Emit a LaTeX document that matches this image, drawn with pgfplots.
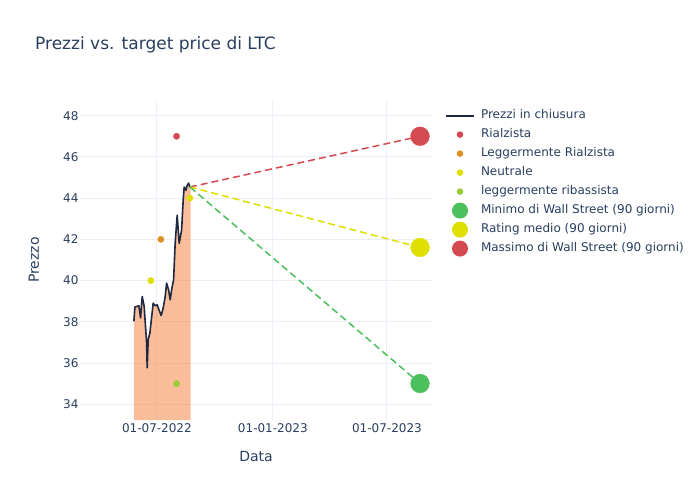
\documentclass[border=0pt]{standalone}
\usepackage{pgfplots}
\pgfplotsset{compat=1.18}
\usepackage{fontspec}
\setmainfont{DejaVu Sans}
\definecolor{textc}{RGB}{42,63,95}
\definecolor{gridc}{RGB}{235,240,248}
\definecolor{fillc}{RGB}{244,125,52}
\definecolor{linec}{RGB}{31,40,64}
\definecolor{redc}{RGB}{213,73,82}
\definecolor{orangec}{RGB}{221,145,38}
\definecolor{yellowc}{RGB}{224,224,0}
\definecolor{lgreenc}{RGB}{154,205,50}
\definecolor{greenc}{RGB}{76,192,92}
\begin{document}
\begin{tikzpicture}[x=1pt,y=1pt]
\useasboundingbox (0,0) rectangle (700,500);
\fill[white] (0,0) rectangle (700,500);
\node[anchor=base west, text=textc, font=\fontsize{17}{20}\selectfont, inner sep=0pt] at (35,450) {Prezzi vs. target price di LTC};
\begin{axis}[
  at={(80pt,80pt)}, anchor=south west, scale only axis,
  width=352pt, height=320pt,
  xmin=-122, xmax=436.5, ymin=33.24, ymax=48.76,
  xtick={0,184,365}, xticklabels={01-07-2022,01-01-2023,01-07-2023},
  ytick={34,36,...,48},
  grid=major, major grid style={color=gridc, line width=1pt},
  axis line style={draw=none}, tick style={draw=none},
  ticklabel style={text=textc, font=\fontsize{12}{14}\selectfont},
  yticklabel style={xshift=2pt},
  /pgf/number format/assume math mode=true,
  xlabel={Data}, ylabel={Prezzo},
  label style={text=textc, font=\fontsize{14}{16}\selectfont},
  xlabel style={at={(axis description cs:0.5,-0.1125)}, anchor=center},
  ylabel style={at={(axis description cs:-0.131,0.5)}, anchor=center},
  legend style={at={(1,1)}, anchor=north west, xshift=13pt, yshift=-9.6pt,
    draw=none, fill=none, inner sep=0pt, outer sep=0pt,
    row sep=7pt, column sep=6pt, text=textc,
    font=\fontsize{12}{14}\selectfont,
    nodes={inner sep=0pt, text height=9pt, text depth=3pt}},
  legend cell align=left,
]
\addplot[fill=fillc, fill opacity=0.5, draw=none, forget plot] coordinates {
(-36.5,38.02) (-34.9,38.72) (-28.6,38.78) (-25.9,38.19) (-23.3,39.23) (-20.2,38.75)
(-16.3,36.98) (-15.4,35.77) (-13.8,37.14) (-11.1,37.46) (-5.9,38.91) (-2.7,38.78)
(0.5,38.83) (3.2,38.59) (6.8,38.31) (10,38.67) (13.2,39.23) (15.4,39.88) (18.6,39.55)
(21.1,39.07) (23.8,39.63) (26.5,40.04) (29,41.81) (32.2,43.17) (35.4,41.81) (39.2,42.45)
(41.7,43.90) (43.3,44.54) (46,44.38) (48.1,44.62) (50.3,44.73) (52.4,44.54) (53.5,44.54)
} \closedcycle;
\addplot[color=linec, line width=1.6pt, line join=round,
  legend image code/.code={\path[draw=none,fill=none] (0pt,-6pt) rectangle (28pt,6pt); \path[draw=linec, line width=2pt] (0pt,0pt) -- (28pt,0pt);}]
 coordinates {
(-36.5,38.02) (-34.9,38.72) (-28.6,38.78) (-25.9,38.19) (-23.3,39.23) (-20.2,38.75)
(-16.3,36.98) (-15.4,35.77) (-13.8,37.14) (-11.1,37.46) (-5.9,38.91) (-2.7,38.78)
(0.5,38.83) (3.2,38.59) (6.8,38.31) (10,38.67) (13.2,39.23) (15.4,39.88) (18.6,39.55)
(21.1,39.07) (23.8,39.63) (26.5,40.04) (29,41.81) (32.2,43.17) (35.4,41.81) (39.2,42.45)
(41.7,43.90) (43.3,44.54) (46,44.38) (48.1,44.62) (50.3,44.73) (52.4,44.54)
};
\addlegendentry{Prezzi in chiusura}
\addplot[color=redc, only marks, mark=*, mark size=3.2pt, mark options={draw=redc, fill=redc, line width=0.3pt},
  legend image code/.code={\path[draw=none,fill=none] (0pt,-6pt) rectangle (28pt,6pt); \fill[redc, draw=none] (14pt,0pt) circle (3.3pt);}]
 coordinates {(31.2,47)};
\addlegendentry{Rialzista}
\addplot[color=orangec, only marks, mark=*, mark size=3.2pt, mark options={draw=orangec, fill=orangec, line width=0.3pt},
  legend image code/.code={\path[draw=none,fill=none] (0pt,-6pt) rectangle (28pt,6pt); \fill[orangec, draw=none] (14pt,0pt) circle (3.3pt);}]
 coordinates {(6.3,42)};
\addlegendentry{Leggermente Rialzista}
\addplot[color=yellowc, only marks, mark=*, mark size=3.2pt, mark options={draw=yellowc, fill=yellowc, line width=0.3pt},
  legend image code/.code={\path[draw=none,fill=none] (0pt,-6pt) rectangle (28pt,6pt); \fill[yellowc, draw=none] (14pt,0pt) circle (3.3pt);}]
 coordinates {(-9.5,40) (52.4,44)};
\addlegendentry{Neutrale}
\addplot[color=lgreenc, only marks, mark=*, mark size=3.2pt, mark options={draw=lgreenc, fill=lgreenc, line width=0.3pt},
  legend image code/.code={\path[draw=none,fill=none] (0pt,-6pt) rectangle (28pt,6pt); \fill[lgreenc, draw=none] (14pt,0pt) circle (3.3pt);}]
 coordinates {(31.2,35)};
\addlegendentry{leggermente ribassista}
\addplot[redc, line width=1.5pt, dash pattern=on 7pt off 4pt, forget plot] coordinates {(52.4,44.54) (417.5,47)};
\addplot[yellowc, line width=1.5pt, dash pattern=on 7pt off 4pt, forget plot] coordinates {(52.4,44.54) (417.5,41.61)};
\addplot[greenc, line width=1.5pt, dash pattern=on 7pt off 4pt, forget plot] coordinates {(52.4,44.54) (417.5,35.01)};
\addplot[color=greenc, only marks, mark=*, mark size=9.4pt, mark options={draw=greenc, fill=greenc, line width=0.3pt},
  legend image code/.code={\path[draw=none,fill=none] (0pt,-6pt) rectangle (28pt,6pt); \fill[greenc, draw=none, overlay] (14pt,0pt) circle (8pt);}]
 coordinates {(417.5,35.01)};
\addlegendentry{Minimo di Wall Street (90 giorni)}
\addplot[color=yellowc, only marks, mark=*, mark size=9.4pt, mark options={draw=yellowc, fill=yellowc, line width=0.3pt},
  legend image code/.code={\path[draw=none,fill=none] (0pt,-6pt) rectangle (28pt,6pt); \fill[yellowc, draw=none, overlay] (14pt,0pt) circle (8pt);}]
 coordinates {(417.5,41.61)};
\addlegendentry{Rating medio (90 giorni)}
\addplot[color=redc, only marks, mark=*, mark size=9.4pt, mark options={draw=redc, fill=redc, line width=0.3pt},
  legend image code/.code={\path[draw=none,fill=none] (0pt,-6pt) rectangle (28pt,6pt); \fill[redc, draw=none, overlay] (14pt,0pt) circle (8pt);}]
 coordinates {(417.5,47)};
\addlegendentry{Massimo di Wall Street (90 giorni)}
\end{axis}
\end{tikzpicture}
\end{document}
